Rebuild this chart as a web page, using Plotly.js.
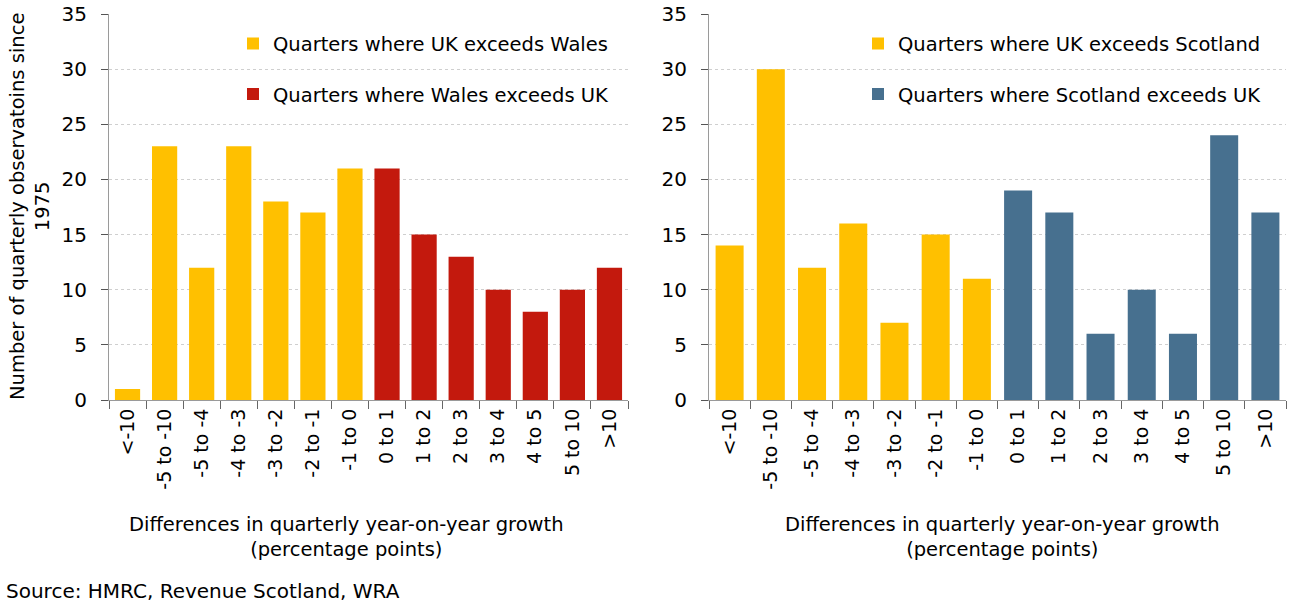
<!DOCTYPE html>
<html>
<head>
<meta charset="utf-8">
<script src="https://cdn.plot.ly/plotly-3.0.1.min.js"></script>
<style>html,body{margin:0;padding:0;background:#fff;}#chart{width:1294px;height:605px;}</style>
</head>
<body>
<div id="chart"></div>
<script>
var categories = ["<-10","-5 to -10","-5 to -4","-4 to -3","-3 to -2","-2 to -1","-1 to 0","0 to 1","1 to 2","2 to 3","3 to 4","4 to 5","5 to 10",">10"];
var walesValues = [1,23,12,23,18,17,21,21,15,13,10,8,10,12];
var scotlandValues = [14,30,12,16,7,15,11,19,17,6,10,6,24,17];
var splitIndex = 7;
var seriesNames = {
  ukWales: "Quarters where UK exceeds Wales",
  walesUk: "Quarters where Wales exceeds UK",
  ukScot: "Quarters where UK exceeds Scotland",
  scotUk: "Quarters where Scotland exceeds UK"
};
var yTitle = "Number of quarterly observatoins since<br>1975";
var xTitle = "Differences in quarterly year-on-year growth<br>(percentage points)";
var sourceText = "Source: HMRC, Revenue Scotland, WRA";

var YELLOW = "#FFC000", RED = "#C3190D", BLUE = "#47708F";
var FONT = "'DejaVu Sans', 'Noto Sans', sans-serif";

function part(vals, neg){
  return vals.map(function(v,i){ return (neg ? i < splitIndex : i >= splitIndex) ? v : null; });
}

var traces = [
  {type:"bar", x:categories, y:part(walesValues,true), name:seriesNames.ukWales, marker:{color:YELLOW}, xaxis:"x", yaxis:"y", legend:"legend", legendgroup:"a"},
  {type:"bar", x:categories, y:part(walesValues,false), name:seriesNames.walesUk, marker:{color:RED}, xaxis:"x", yaxis:"y", legend:"legend", legendgroup:"b"},
  {type:"bar", x:categories, y:part(scotlandValues,true), name:seriesNames.ukScot, marker:{color:YELLOW}, xaxis:"x2", yaxis:"y2", legend:"legend2", legendgroup:"c"},
  {type:"bar", x:categories, y:part(scotlandValues,false), name:seriesNames.scotUk, marker:{color:BLUE}, xaxis:"x2", yaxis:"y2", legend:"legend2", legendgroup:"d"}
];

var W = 1294;
function xaxisDef(d0,d1,anchor){
  return {domain:[d0/W, d1/W], anchor:anchor, type:"category", categoryorder:"array", categoryarray:categories,
    showline:true, linecolor:"#9a9a9a", linewidth:1, ticks:"outside", tickson:"boundaries", ticklen:8, tickcolor:"#666",
    tickangle:-90, tickfont:{size:19, color:"#000", family:FONT}, showgrid:false, zeroline:false, fixedrange:true};
}
function yaxisDef(anchor){
  return {anchor:anchor, range:[0,35], dtick:5, showline:true, linecolor:"#9a9a9a", linewidth:1, ticks:"outside", ticklen:7, tickcolor:"#555",
    ticklabelstandoff:10,
    tickfont:{size:20, color:"#000", family:FONT}, showgrid:true, gridcolor:"#cfcfcf", griddash:"dot", gridwidth:1, zeroline:false, fixedrange:true};
}

var legendBase = {font:{size:19.5, color:"#000", family:FONT}, bgcolor:"rgba(0,0,0,0)", traceorder:"grouped", tracegroupgap:22, xanchor:"left", yanchor:"top", itemclick:false};

var layout = {
  width:1294, height:605,
  margin:{l:0, r:0, t:14, b:205},
  paper_bgcolor:"#fff", plot_bgcolor:"#fff",
  font:{family:FONT, color:"#000"},
  barmode:"overlay", bargap:0.32,
  showlegend:true,
  xaxis: xaxisDef(109, 628, "y"),
  yaxis: yaxisDef("x"),
  xaxis2: xaxisDef(709, 1286, "y2"),
  yaxis2: yaxisDef("x2"),
  legend: Object.assign({}, legendBase, {x:233/W, y:0.973}),
  legend2: Object.assign({}, legendBase, {x:858/W, y:0.973}),
  annotations:[
    {text:yTitle, xref:"paper", yref:"paper", x:30/W, y:0.5, xanchor:"center", yanchor:"middle", textangle:-90, showarrow:false, font:{size:19.5, family:FONT, color:"#000"}},
    {text:xTitle, xref:"paper", yref:"paper", x:346/W, y:(400-537)/386, xanchor:"center", yanchor:"middle", showarrow:false, font:{size:19.5, family:FONT, color:"#000"}},
    {text:xTitle, xref:"paper", yref:"paper", x:1002/W, y:(400-537)/386, xanchor:"center", yanchor:"middle", showarrow:false, font:{size:19.5, family:FONT, color:"#000"}},
    {text:sourceText, xref:"paper", yref:"paper", x:4/W, y:(400-591)/386, xanchor:"left", yanchor:"middle", showarrow:false, font:{size:20, family:FONT, color:"#000"}}
  ]
};

Plotly.newPlot("chart", traces, layout, {displayModeBar:false, staticPlot:true});
</script>
</body>
</html>
